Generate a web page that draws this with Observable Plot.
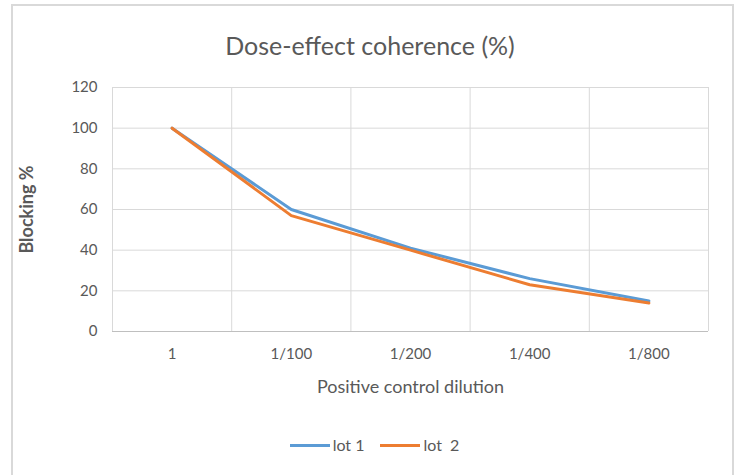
<!DOCTYPE html>
<html>
<head>
<meta charset="utf-8">
<script src="https://cdn.jsdelivr.net/npm/d3@7"></script>
<script src="https://cdn.jsdelivr.net/npm/@observablehq/plot@0.6"></script>
<style>
  html, body { margin: 0; padding: 0; background: #fff; }
  #wrap { position: relative; width: 739px; height: 475px; overflow: hidden; font-family: Lato, "Open Sans", sans-serif; }
  #frame { position: absolute; left: 11px; top: 4px; width: 719px; height: 480px; border: 2px solid #d9d9d9; border-bottom: none; box-sizing: content-box; }
  #title { position: absolute; left: 0; top: 28px; width: 740px; text-align: center; font-size: 25px; color: #595959; line-height: 34px; }
  #chart { position: absolute; left: 0; top: 0; }
  #legend { position: absolute; top: 434px; left: 0; width: 739px; display: flex; justify-content: center; gap: 16px; font-size: 16px; color: #595959; line-height: 22px; padding-left: 10px; box-sizing: border-box; }
  .item { display: flex; align-items: center; gap: 3px; }
  .sw { width: 40px; height: 3px; display: inline-block; }
</style>
</head>
<body>
<div id="wrap">
  <div id="frame"></div>
  <div id="chart"></div>
  <div id="title"></div>
  <div id="legend"></div>
</div>
<script>
const titleText = "Dose-effect coherence (%)";
const xTitle = "Positive control dilution";
const yTitle = "Blocking %";
const categories = ["1", "1/100", "1/200", "1/400", "1/800"];
const seriesNames = ["lot 1", "lot  2"];
const lot1 = [100, 60, 41, 26, 15];
const lot2 = [100, 57, 40, 23, 14];
const yTicks = [0, 20, 40, 60, 80, 100, 120];
const colors = ["#5B9BD5", "#ED7D31"];

const rows = [];
categories.forEach((c, i) => {
  rows.push({series: seriesNames[0], cat: c, pos: i + 0.5, value: lot1[i]});
  rows.push({series: seriesNames[1], cat: c, pos: i + 0.5, value: lot2[i]});
});
const boundaries = d3.range(0, categories.length + 1);

const chart = Plot.plot({
  width: 739,
  height: 475,
  marginLeft: 112,
  marginRight: 31,
  marginTop: 87,
  marginBottom: 144,
  style: {fontFamily: "Lato, 'Open Sans', sans-serif", background: "transparent", color: "#595959"},
  x: {type: "linear", domain: [0, categories.length], axis: null},
  y: {domain: [0, 120], axis: null},
  color: {domain: seriesNames, range: colors},
  marks: [
    Plot.ruleY(yTicks, {stroke: "#d9d9d9", strokeWidth: 1}),
    Plot.ruleX(boundaries, {stroke: "#d9d9d9", strokeWidth: 1}),
    Plot.ruleY([0], {stroke: "#bfbfbf", strokeWidth: 1}),
    Plot.axisY({ticks: yTicks, tickSize: 0, tickPadding: 15, fontSize: 15, label: null, color: "#595959"}),
    Plot.axisX({ticks: categories.map((c, i) => i + 0.5), tickFormat: (d) => categories[Math.round(d - 0.5)], tickSize: 0, tickPadding: 17, fontSize: 15, label: null, color: "#595959"}),
    Plot.line(rows, {x: "pos", y: "value", stroke: "series", z: "series", strokeWidth: 3, curve: "linear"}),
    Plot.text([yTitle], {frameAnchor: "left", dx: -85, rotate: -90, textAnchor: "middle", fontSize: 18, fontWeight: "bold", fill: "#595959"}),
    Plot.text([xTitle], {frameAnchor: "bottom", dy: 61, textAnchor: "middle", fontSize: 18, fill: "#595959"})
  ]
});
document.getElementById("chart").appendChild(chart);

document.getElementById("title").textContent = titleText;
const legend = document.getElementById("legend");
seriesNames.forEach((s, i) => {
  const item = document.createElement("div");
  item.className = "item";
  const sw = document.createElement("span");
  sw.className = "sw";
  sw.style.background = colors[i];
  const label = document.createElement("span");
  label.textContent = s;
  label.style.whiteSpace = "pre";
  item.appendChild(sw);
  item.appendChild(label);
  legend.appendChild(item);
});
</script>
</body>
</html>
